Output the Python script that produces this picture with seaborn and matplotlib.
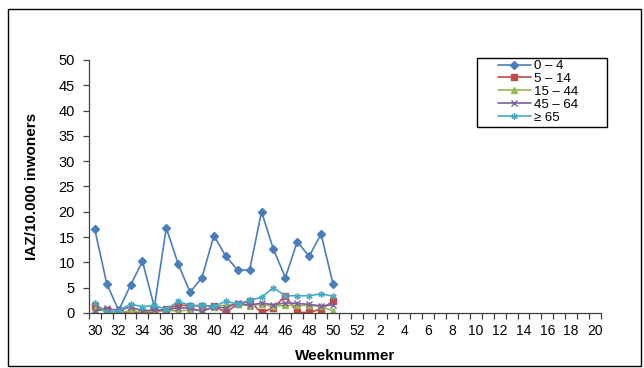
import matplotlib
matplotlib.use('Agg')
import matplotlib.pyplot as plt
import seaborn as sns
import pandas as pd
from matplotlib.patches import Rectangle

# week numbers on the category axis (week 30 of one year up to week 20 of the next)
weeks = [str(w) for w in range(30, 53)] + [str(w) for w in range(1, 21)]
data_weeks = [str(w) for w in range(30, 51)]

groups = ['0 – 4', '5 – 14', '15 – 44', '45 – 64', '≥ 65']

age_0_4 = [16.5, 5.8, 0.5, 5.5, 10.2, 1.2, 16.8, 9.7, 4.1, 7.0, 15.3,
           11.2, 8.5, 8.5, 20.0, 12.6, 7.0, 14.1, 11.2, 15.6, 5.8]
age_5_14 = [1.4, 0.5, 0.0, 0.1, 0.1, 0.1, 0.7, 1.6, 1.4, 1.4, 1.4,
            0.1, 1.8, 2.3, 0.1, 1.0, 3.4, 0.1, 0.1, 0.8, 2.3]
age_15_44 = [0.8, 0.3, 0.1, 0.4, 0.2, 0.4, 0.5, 0.4, 0.6, 0.5, 1.2,
             1.6, 1.7, 1.4, 1.8, 1.3, 1.5, 1.5, 1.5, 1.3, 0.4]
age_45_64 = [0.4, 0.9, 0.5, 1.2, 0.4, 0.6, 0.6, 1.0, 1.0, 0.3, 1.2,
             1.0, 2.0, 1.5, 2.0, 1.6, 2.0, 1.9, 1.7, 1.4, 1.6]
age_65 = [1.9, 0.1, 0.4, 1.8, 1.2, 1.5, 0.7, 2.3, 1.5, 1.5, 1.3,
          2.3, 1.8, 2.5, 3.1, 5.0, 3.4, 3.4, 3.4, 3.8, 3.3]

series = [age_0_4, age_5_14, age_15_44, age_45_64, age_65]

rows = []
for g, vals in zip(groups, series):
    for w, v in zip(data_weeks, vals):
        rows.append({'week': w, 'pos': weeks.index(w), 'group': g, 'value': v})
df = pd.DataFrame(rows)

colors = ['#4A7EBB', '#BE4B48', '#98B954', '#7D60A0', '#46AAC5']
markers = ['D', 's', '^', 'x', (6, 2, 0)]

sns.set_style('ticks')
plt.rcParams['font.family'] = ['Liberation Sans', 'DejaVu Sans']
plt.rcParams['text.color'] = 'black'
plt.rcParams['xtick.color'] = 'black'
plt.rcParams['ytick.color'] = 'black'
plt.rcParams['axes.labelcolor'] = 'black'

fig = plt.figure(figsize=(6.44, 3.68), dpi=100)
ax = fig.add_axes([0.138, 0.1495, 0.795, 0.6875])

for g, c, m in zip(groups, colors, markers):
    sns.lineplot(data=df[df['group'] == g], x='pos', y='value', color=c,
                 marker=m, markersize=4.5, markeredgewidth=1.0,
                 markeredgecolor=c, linewidth=1.2, label=g, ax=ax)

ax.set_xlim(-0.5, len(weeks) - 0.5)
ax.set_ylim(0, 50)
ax.set_yticks(range(0, 51, 5))
ax.set_xticks(range(0, len(weeks), 2))
ax.set_xticklabels(weeks[::2])
ax.set_xticks([i - 0.5 for i in range(len(weeks) + 1)], minor=True)
ax.tick_params(axis='x', which='major', length=0, labelsize=10, pad=8)
ax.tick_params(axis='x', which='minor', length=4, width=0.9, direction='out',
               color='#404040')
ax.tick_params(axis='y', length=4, width=0.9, labelsize=10.5, pad=6, color='#404040')
sns.despine(ax=ax)
for s in ['left', 'bottom']:
    ax.spines[s].set_linewidth(0.9)
    ax.spines[s].set_color('#404040')

ax.set_xlabel('Weeknummer', fontsize=11, fontweight='bold', labelpad=8)
ax.set_ylabel('IAZ/10.000 inwoners', fontsize=11, fontweight='bold', labelpad=14)

handles, labels = ax.get_legend_handles_labels()
leg = ax.legend(handles, labels, loc='upper left',
                bbox_to_anchor=(496 / 644, 1 - 58 / 368),
                bbox_transform=fig.transFigure, frameon=False, fontsize=9.5,
                handlelength=2.5, borderpad=0.15, borderaxespad=0,
                labelspacing=0.05, handletextpad=0.25)

# legend box (Excel style, wider than its contents)
fig.patches.append(Rectangle((477 / 644, 1 - 127 / 368), 130 / 644, 69 / 368,
                             transform=fig.transFigure, fill=False,
                             edgecolor='black', linewidth=1.0))
# chart border
fig.patches.append(Rectangle((0.013, 0.005), 0.982, 0.97, transform=fig.transFigure,
                             fill=False, edgecolor='black', linewidth=1.0))

fig.savefig('out.png', dpi=100)
